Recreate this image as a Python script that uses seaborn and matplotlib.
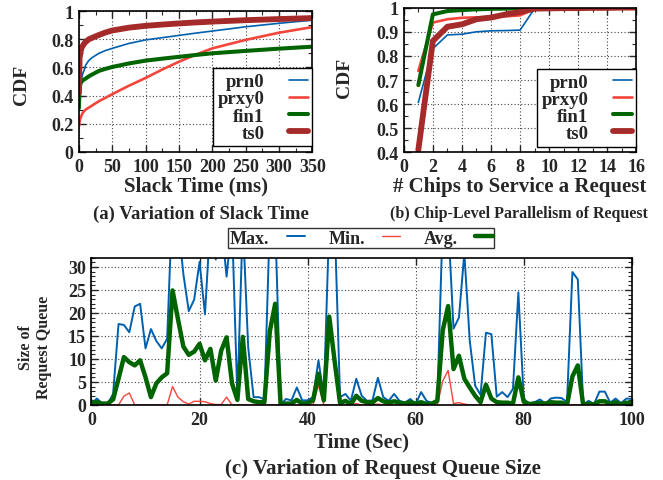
import numpy as np
import pandas as pd
import seaborn as sns
import matplotlib
matplotlib.use("Agg")
import matplotlib.pyplot as plt
from matplotlib.ticker import MultipleLocator, FormatStrFormatter

# ---- (a) CDF of slack time ----
slack_ms = [0, 1, 2, 4, 6, 8, 10, 15, 20, 30, 40, 50, 75, 100, 125, 150, 175, 200, 250, 300, 350]
slack_prn0 = [0.38, 0.42, 0.47, 0.52, 0.56, 0.58, 0.615, 0.65, 0.67, 0.70, 0.72, 0.735, 0.77, 0.795,
              0.811, 0.827, 0.843, 0.858, 0.888, 0.913, 0.935]
slack_prxy0 = [0.18, 0.21, 0.235, 0.26, 0.28, 0.29, 0.30, 0.315, 0.33, 0.36, 0.385, 0.41, 0.47, 0.525,
               0.585, 0.64, 0.69, 0.735, 0.795, 0.846, 0.886]
slack_fin1 = [0.31, 0.44, 0.48, 0.50, 0.508, 0.515, 0.52, 0.537, 0.55, 0.575, 0.59, 0.603, 0.628, 0.648,
              0.662, 0.675, 0.688, 0.70, 0.717, 0.733, 0.747]
slack_ts0 = [0.42, 0.66, 0.70, 0.74, 0.755, 0.77, 0.78, 0.80, 0.81, 0.83, 0.848, 0.862, 0.882, 0.895,
             0.904, 0.912, 0.919, 0.925, 0.935, 0.943, 0.95]

# ---- (b) CDF of chips per request ----
chips = list(range(1, 17))
chips_prn0 = [0.607, 0.83, 0.887, 0.89, 0.90, 0.904, 0.905, 0.907, 0.997, 0.998, 0.999, 0.999, 1, 1, 1, 1]
chips_prxy0 = [0.738, 0.938, 0.952, 0.958, 0.96, 0.962, 0.964, 0.968, 0.995, 0.997, 0.998, 0.999, 0.999, 1, 1, 1]
chips_fin1 = [0.679, 0.972, 0.986, 0.99, 0.993, 0.995, 0.996, 0.997, 0.999, 1, 1, 1, 1, 1, 1, 1]
chips_ts0 = [0.41, 0.862, 0.921, 0.931, 0.952, 0.959, 0.972, 0.982, 0.996, 0.997, 0.998, 0.998, 0.999, 0.999, 1, 1]

# ---- (c) request queue size over time (one sample per second) ----
time_sec = list(range(0, 101))
queue_max = [0.3, 1.4, 0.3, 0.3, 2.4, 17.6, 17.4, 15.8, 21.4, 22.0,
             12.3, 16.5, 13.9, 12.3, 14.4, 45, 40, 28.5, 20.4, 22.9,
             31.1, 19.7, 40, 31.6, 40, 27.9, 40, 1.5, 40, 12.5,
             1.7, 1.7, 1.2, 40, 40, 0.1, 1.3, 1.0, 3.8, 1.0,
             1.0, 1.7, 9.7, 2.0, 40, 40, 1.7, 2.4, 0.9, 5.7,
             2.0, 0.9, 1.0, 5.9, 1.7, 0.9, 2.4, 0.9, 0.5, 1.3,
             0.2, 2.8, 0.9, 0.4, 1.0, 40, 40, 16.6, 19.0, 33,
             14, 4.2, 2.2, 15.7, 15.4, 1.8, 2.8, 1.7, 3.5, 24.5,
             1.3, 0.3, 0.6, 1.2, 0.3, 1.4, 1.6, 1.5, 0.6, 28.9,
             27.3, 0.1, 0.9, 0.2, 2.9, 2.9, 0.5, 1.4, 0.4, 1.4,
             1.3]
queue_min = [0.2, 0.3, 0, 0, 0, 0, 1.9, 2.6, 0, 0,
             0, 0, 0, 0, 0, 4.0, 1.7, 0.7, 0.2, 0.8,
             0.8, 0.7, 0.3, 0.1, 0.1, 1.7, 0, 0, 0, 0,
             0, 0, 0, 0, 0, 0, 0, 0, 0, 0,
             0, 0, 4.3, 0, 0, 0, 0, 0, 0, 0.3,
             0, 0, 0, 0.2, 0, 0, 0, 0, 0, 0,
             0, 0, 0, 0, 0, 5.2, 7.5, 0.3, 0.5, 0.2,
             0, 0, 0, 0, 0, 0, 0, 0, 0, 0,
             0, 0, 0, 0, 0, 0, 0, 0, 0, 0,
             0, 0, 0, 0, 0, 0, 0, 0, 0, 0,
             0]
queue_avg = [0.5, 0.6, 0.3, 0.3, 1.2, 5.7, 10.4, 9.3, 8.6, 9.7,
             6.0, 1.7, 4.7, 6.0, 6.9, 24.9, 18.7, 12.7, 10.9, 11.6,
             13.3, 9.7, 12.2, 5.3, 11.8, 14.7, 4.7, 1.1, 14.8, 1.3,
             0.8, 0.6, 0.6, 16.0, 22.0, 0.1, 0.3, 0.3, 1.1, 0.3,
             0.4, 1.0, 6.8, 1.0, 19.2, 9.5, 0.4, 0.9, 0.1, 2.0,
             0.9, 0.6, 0.5, 1.5, 0.8, 0.5, 0.8, 0.5, 0.3, 0.6,
             0.3, 0.6, 0.2, 0.3, 0.9, 16.2, 21.5, 7.8, 10.7, 5.7,
             3.8, 2.0, 0.6, 4.4, 1.4, 0.6, 0.5, 0.5, 0.3, 6.0,
             0.7, 0.2, 0.3, 0.4, 0.3, 0.6, 0.5, 0.5, 0.0, 6.2,
             8.6, 0.0, 0.3, 0.1, 0.8, 0.8, 0.2, 0.6, 0.1, 0.5,
             0.4]

BLUE = "#0060ad"
RED = "#f2463c"
GREEN = "#006400"
BROWN = "#a52a2a"

sns.set_style("ticks")
plt.rcParams["font.family"] = ["Liberation Serif", "DejaVu Serif"]
plt.rcParams["font.weight"] = "bold"
plt.rcParams["axes.labelweight"] = "bold"
plt.rcParams["axes.linewidth"] = 1.2

fig = plt.figure(figsize=(6.63, 4.81), dpi=100)
ax_a = fig.add_axes([0.119, 0.682, 0.352, 0.293])
ax_b = fig.add_axes([0.609, 0.681, 0.351, 0.301])
ax_c = fig.add_axes([0.138, 0.156, 0.815, 0.306])


def gnuplot_look(ax):
    ax.tick_params(which="both", direction="in", top=True, right=True, labelsize=13, pad=4)
    ax.tick_params(which="major", length=5, width=1)
    ax.tick_params(which="minor", length=3, width=0.8)
    ax.grid(True, which="major", linestyle=(0, (1, 2)), color="#444444", linewidth=0.8)
    for s in ax.spines.values():
        s.set_color("black")


def key_box(ax, **kw):
    # gnuplot style key: right-justified names, sample line on the right
    leg = ax.legend(markerfirst=False, fancybox=False, framealpha=1, **kw)
    for col in leg._legend_handle_box.get_children():
        col.align = "right"
    return leg


series_style = [("prn0", BLUE, 1.2), ("prxy0", RED, 1.9), ("fin1", GREEN, 2.9), ("ts0", BROWN, 4.2)]

# (a)
for (name, col, lw), ys in zip(series_style, [slack_prn0, slack_prxy0, slack_fin1, slack_ts0]):
    sns.lineplot(x=slack_ms, y=ys, ax=ax_a, color=col, linewidth=lw, label=name)
ax_a.set_xlim(0, 350)
ax_a.set_ylim(0, 1)
ax_a.xaxis.set_major_locator(MultipleLocator(50))
ax_a.xaxis.set_minor_locator(MultipleLocator(25))
ax_a.yaxis.set_major_locator(MultipleLocator(0.2))
ax_a.yaxis.set_minor_locator(MultipleLocator(0.1))
ax_a.yaxis.set_major_formatter(FormatStrFormatter("%g"))
ax_a.set_xlabel("Slack Time (ms)", fontsize=15, labelpad=1)
ax_a.set_ylabel("CDF", fontsize=14)
ax_a.yaxis.set_label_coords(-0.21, 0.48)
gnuplot_look(ax_a)

# (b)
for (name, col, lw), ys in zip(series_style, [chips_prn0, chips_prxy0, chips_fin1, chips_ts0]):
    sns.lineplot(x=chips, y=ys, ax=ax_b, color=col, linewidth=lw, label=name)
ax_b.set_xlim(0, 16)
ax_b.set_ylim(0.4, 1)
ax_b.xaxis.set_major_locator(MultipleLocator(2))
ax_b.xaxis.set_minor_locator(MultipleLocator(1))
ax_b.yaxis.set_major_locator(MultipleLocator(0.1))
ax_b.yaxis.set_minor_locator(MultipleLocator(0.05))
ax_b.yaxis.set_major_formatter(FormatStrFormatter("%g"))
ax_b.set_xlabel("# Chips to Service a Request", fontsize=15, labelpad=1)
ax_b.set_ylabel("CDF", fontsize=14)
ax_b.yaxis.set_label_coords(-0.219, 0.52)
gnuplot_look(ax_b)

for ax in (ax_a, ax_b):
    key_box(ax, loc="lower right", bbox_to_anchor=(1.0, 0.04), edgecolor="black",
            handlelength=1.0, labelspacing=0.0, borderpad=0.25, borderaxespad=0.0,
            handletextpad=1.3, prop={"weight": "bold", "size": 13.5})

# (c)
sns.lineplot(x=time_sec, y=queue_max, ax=ax_c, color=BLUE, linewidth=1.4, label="Max.")
sns.lineplot(x=time_sec, y=queue_min, ax=ax_c, color=RED, linewidth=1.0, label="Min.")
sns.lineplot(x=time_sec, y=queue_avg, ax=ax_c, color=GREEN, linewidth=3.2, label="Avg.")
ax_c.set_xlim(0, 100)
ax_c.set_ylim(0, 32)
ax_c.xaxis.set_major_locator(MultipleLocator(20))
ax_c.yaxis.set_major_locator(MultipleLocator(5))
ax_c.yaxis.set_minor_locator(MultipleLocator(1))
ax_c.set_xlabel("Time (Sec)", fontsize=15, labelpad=3)
ax_c.set_ylabel("Size of\nRequest Queue", fontsize=11.5, linespacing=1.15)
ax_c.yaxis.set_label_coords(-0.074, 0.40)
gnuplot_look(ax_c)
key_box(ax_c, loc="center", bbox_to_anchor=(0.545, 0.503), bbox_transform=fig.transFigure,
        ncol=3, edgecolor="#333333", handlelength=1.0, columnspacing=1.3,
        handletextpad=0.95, borderpad=0.1, prop={"weight": "bold", "size": 13})

fig.text(0.303, 0.555, "(a) Variation of Slack Time", ha="center", va="center", fontsize=13.5, fontweight="bold")
fig.text(0.783, 0.555, "(b) Chip-Level Parallelism of Request", ha="center", va="center", fontsize=11.5, fontweight="bold")
fig.text(0.577, 0.025, "(c) Variation of Request Queue Size", ha="center", va="center", fontsize=15, fontweight="bold")

fig.savefig("out.png", dpi=100)
